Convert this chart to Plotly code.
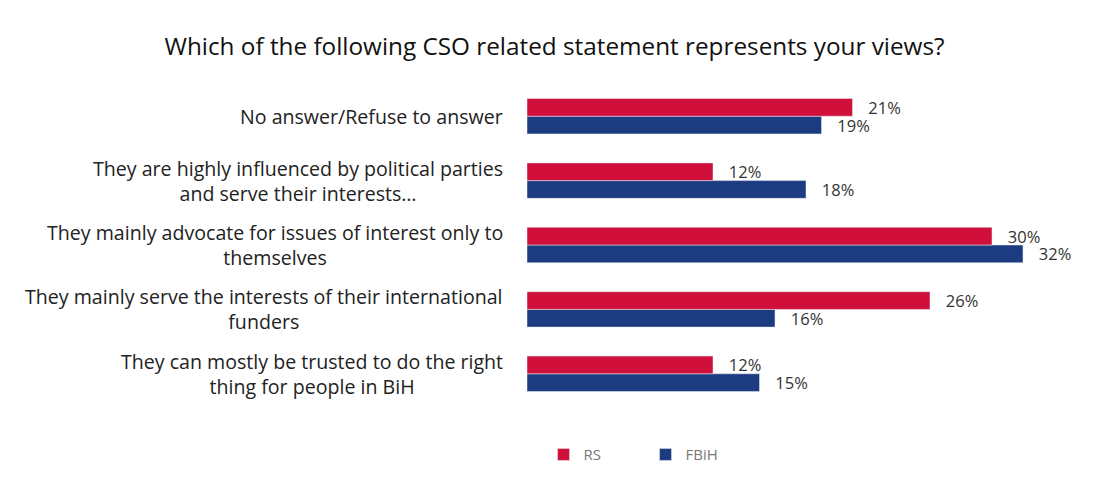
import plotly.graph_objects as go

# Survey responses, listed top to bottom
categories = [
    "No answer/Refuse to answer",
    "They are highly influenced by political parties<br>and serve their interests…",
    "They mainly advocate for issues of interest only to<br>themselves",
    "They mainly serve the interests of their international<br>funders",
    "They can mostly be trusted to do the right<br>thing for people in BiH",
]
rs_values = [21, 12, 30, 26, 12]
fbih_values = [19, 18, 32, 16, 15]
series_names = ["RS", "FBiH"]

RED = "#D0103A"
BLUE = "#1C3B80"
FONT = "'Open Sans', Lato, sans-serif"
PAD = "\u00a0\u00a0\u00a0"  # small gap between bar end and its value label

# plot reversed so the first category sits at the top
cats_rev = categories[::-1]

fig = go.Figure()
fig.add_trace(go.Bar(
    y=list(range(len(cats_rev))), x=fbih_values[::-1], name=series_names[1],
    orientation="h", marker_color=BLUE,
    text=[f"{PAD}{v}%" for v in fbih_values[::-1]], textposition="outside",
    textfont=dict(size=16.5, color="#333333", family=FONT),
    constraintext="none", cliponaxis=False,
))
fig.add_trace(go.Bar(
    y=list(range(len(cats_rev))), x=rs_values[::-1], name=series_names[0],
    orientation="h", marker_color=RED,
    text=[f"{PAD}{v}%" for v in rs_values[::-1]], textposition="outside",
    textfont=dict(size=16.5, color="#333333", family=FONT),
    constraintext="none", cliponaxis=False,
))

# category labels, centred line by line and right-anchored next to the bars
for i, c in enumerate(cats_rev):
    fig.add_annotation(
        x=0, xref="paper", xanchor="right", xshift=-22,
        y=i, yref="y", yanchor="middle",
        text=c, showarrow=False, align="center",
        font=dict(size=19.6, color="#222222", family=FONT),
    )

fig.update_layout(
    width=1098, height=486,
    margin=dict(l=527, r=13, t=84, b=80),
    paper_bgcolor="white", plot_bgcolor="white",
    barmode="group", bargap=0.45, bargroupgap=0,
    title=dict(
        text="Which of the following CSO related statement represents your views?",
        x=0.505, xanchor="center", y=0.905, yanchor="middle",
        font=dict(size=24.3, color="#111111", family=FONT),
    ),
    xaxis=dict(range=[0, 36], visible=False),
    yaxis=dict(range=[-0.5, len(cats_rev) - 0.5], showticklabels=False,
               showgrid=False, zeroline=False),
    legend=dict(
        orientation="h", x=0.0296, xanchor="left", y=-0.1, yanchor="top",
        traceorder="reversed", font=dict(size=15, color="#777777", family=FONT),
        itemwidth=30, entrywidth=57, entrywidthmode="pixels",
    ),
    showlegend=True,
)

fig.write_html("out.html")
